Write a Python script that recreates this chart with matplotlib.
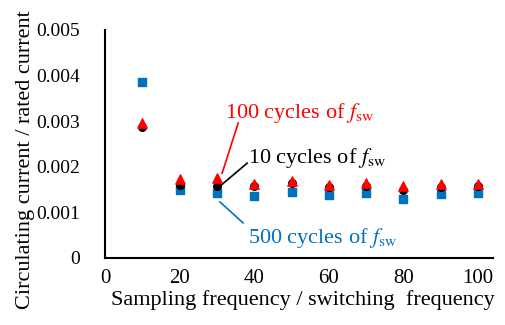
import matplotlib.pyplot as plt

plt.rcParams['font.family'] = ['Liberation Serif', 'DejaVu Serif']
plt.rcParams['mathtext.fontset'] = 'stix'

# Sampling frequency / switching frequency
ratio = [10, 20, 30, 40, 50, 60, 70, 80, 90, 100]
# circulating current / rated current
cyc10 = [0.00287, 0.00160, 0.00158, 0.00158, 0.00164, 0.00156, 0.00158, 0.00149, 0.00156, 0.00158]
cyc100 = [0.00296, 0.00173, 0.00175, 0.00162, 0.00169, 0.00160, 0.00164, 0.00158, 0.00162, 0.00162]
cyc500 = [0.00386, 0.00149, 0.00142, 0.00136, 0.00145, 0.00138, 0.00142, 0.00129, 0.00140, 0.00142]

fig = plt.figure(figsize=(5.06, 3.25), dpi=100)
ax = fig.add_axes([105/506, 67/325, 388/506, 228/325])

ax.scatter(ratio, cyc500, marker='s', s=30, c='#0070C0', zorder=2)
ax.scatter(ratio, cyc10, marker='o', s=30, c='black', zorder=3)
ax.scatter(ratio, cyc100, marker='^', s=45, c='red', zorder=4)

ax.set_xlim(0, 104)
ax.set_ylim(0, 0.005)
ax.set_xticks([0, 20, 40, 60, 80, 100])
ax.set_yticks([0, 0.001, 0.002, 0.003, 0.004, 0.005])
ax.set_yticklabels(['0', '0.001', '0.002', '0.003', '0.004', '0.005'])
ax.tick_params(length=0)
ax.tick_params(axis='x', labelsize=15, pad=8)
ax.tick_params(axis='y', labelsize=14, pad=18)
for s in ['top', 'right']:
    ax.spines[s].set_visible(False)
for s in ['left', 'bottom']:
    ax.spines[s].set_linewidth(1.5)

ax.set_xlabel('Sampling frequency / switching  frequency', fontsize=16)
ax.set_ylabel('Circulating current / rated current', fontsize=16)
ax.xaxis.set_label_coords(0.51, -0.14)
ax.yaxis.set_label_coords(-0.18, 0.43)

# leader lines
ax.plot([35.7, 31.4], [0.00296, 0.00186], color='red', lw=1.2)
ax.plot([38.1, 30.6], [0.00208, 0.00156], color='black', lw=1.2)
ax.plot([30.8, 37.0], [0.00123, 0.00077], color='#0070C0', lw=1.2)

ax.text(32.2, 0.00318, '100 cycles of $f_{\\mathrm{sw}}$', color='red', fontsize=16, va='center')
ax.text(38.3, 0.00219, '10 cycles of $f_{\\mathrm{sw}}$', color='black', fontsize=16, va='center')
ax.text(38.3, 0.00044, '500 cycles of $f_{\\mathrm{sw}}$', color='#0070C0', fontsize=16, va='center')

fig.savefig('out.png', dpi=100)
